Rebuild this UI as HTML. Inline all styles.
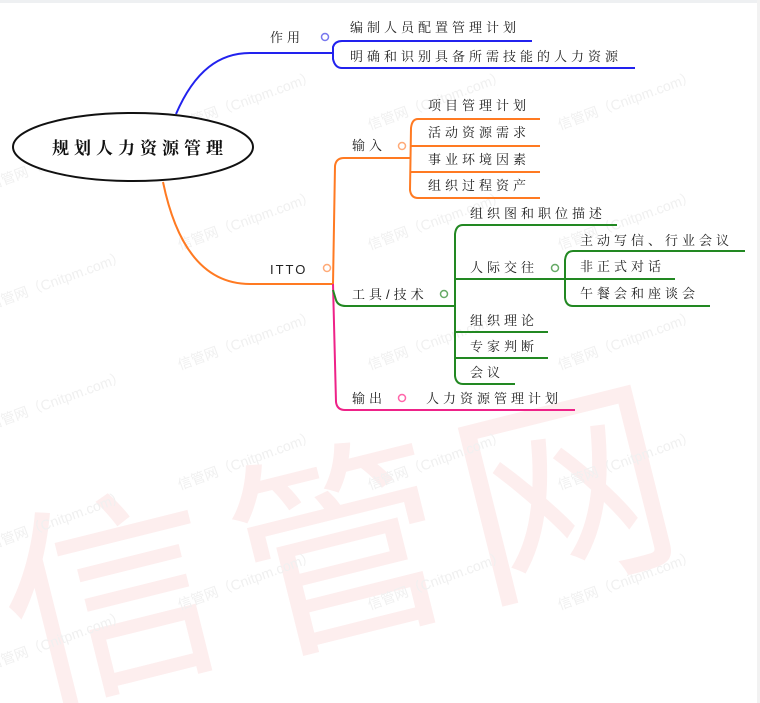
<!DOCTYPE html>
<html><head><meta charset="utf-8"><style>
html,body{margin:0;padding:0;background:#fff;width:760px;height:703px;overflow:hidden;}
svg{display:block}
.t{font-family:"Liberation Sans","Noto Serif CJK SC","Noto Sans CJK SC",serif;font-size:13px;fill:#222;letter-spacing:4px}
.w{font-family:"Liberation Sans","Noto Sans CJK SC",sans-serif;font-size:14px;fill:#f0f0f0}
</style></head><body>
<svg width="760" height="703" viewBox="0 0 760 703" xmlns="http://www.w3.org/2000/svg">
<rect x="0" y="0" width="760" height="3" fill="#eef0f2"/>
<rect x="757" y="0" width="3" height="703" fill="#f2f2f2"/>
<g font-family="'Noto Sans CJK SC',sans-serif" font-size="215" fill="#fdeeee">
<text transform="translate(25,700) rotate(-14)">信</text>
<text transform="translate(255,650) rotate(-14)">管</text>
<text transform="translate(480,595) rotate(-14)">网</text>
</g>
<g class="w">
<text transform="translate(-10,190) rotate(-20)">信管网（Cnitpm.com）</text>
<text transform="translate(180,130) rotate(-20)">信管网（Cnitpm.com）</text>
<text transform="translate(370,130) rotate(-20)">信管网（Cnitpm.com）</text>
<text transform="translate(560,130) rotate(-20)">信管网（Cnitpm.com）</text>
<text transform="translate(-10,310) rotate(-20)">信管网（Cnitpm.com）</text>
<text transform="translate(180,250) rotate(-20)">信管网（Cnitpm.com）</text>
<text transform="translate(370,250) rotate(-20)">信管网（Cnitpm.com）</text>
<text transform="translate(560,250) rotate(-20)">信管网（Cnitpm.com）</text>
<text transform="translate(-10,430) rotate(-20)">信管网（Cnitpm.com）</text>
<text transform="translate(180,370) rotate(-20)">信管网（Cnitpm.com）</text>
<text transform="translate(370,370) rotate(-20)">信管网（Cnitpm.com）</text>
<text transform="translate(560,370) rotate(-20)">信管网（Cnitpm.com）</text>
<text transform="translate(-10,550) rotate(-20)">信管网（Cnitpm.com）</text>
<text transform="translate(180,490) rotate(-20)">信管网（Cnitpm.com）</text>
<text transform="translate(370,490) rotate(-20)">信管网（Cnitpm.com）</text>
<text transform="translate(560,490) rotate(-20)">信管网（Cnitpm.com）</text>
<text transform="translate(-10,670) rotate(-20)">信管网（Cnitpm.com）</text>
<text transform="translate(180,610) rotate(-20)">信管网（Cnitpm.com）</text>
<text transform="translate(370,610) rotate(-20)">信管网（Cnitpm.com）</text>
<text transform="translate(560,610) rotate(-20)">信管网（Cnitpm.com）</text>
</g>
<g fill="none" stroke="#2222ee" stroke-width="2">
<path d="M176,114 C195,70 220,53 250,53 L333,53"/>
<path d="M532,41 L342,41 Q335,41 333,47 L333,59 Q335,68 342,68 L635,68"/>
<circle cx="325" cy="37" r="3.5" stroke="#7777ee" stroke-width="1.5"/>
</g>
<g fill="none" stroke="#ff7a22" stroke-width="2">
<path d="M163,182 C175,240 200,284 250,284 L333,284"/>
<path d="M333,284 L335,166 Q336,158 344,158 L410,158"/>
<path d="M540,119 L418,119 Q412,119 411,128 L410,190 Q411,198 418,198 L540,198"/>
<path d="M410,146 L540,146 M410,172 L540,172"/>
<circle cx="327" cy="268" r="3.5" stroke="#ffaa77" stroke-width="1.5"/>
<circle cx="402" cy="146" r="3.5" stroke="#ffaa77" stroke-width="1.5"/>
</g>
<g fill="none" stroke="#ee2288" stroke-width="2">
<path d="M333,284 L336,402 Q337,410 345,410 L575,410"/>
<circle cx="402" cy="398" r="3.5" stroke="#ff66aa" stroke-width="1.5"/>
</g>
<g fill="none" stroke="#228822" stroke-width="2">
<path d="M333,290 L336,300 Q338,306 346,306 L455,306"/>
<path d="M617,225 L463,225 Q456,225 455,234 L455,376 Q456,384 463,384 L515,384"/>
<path d="M455,279 L560,279 M455,332 L548,332 M455,358 L548,358"/>
<path d="M745,251 L573,251 Q566,251 565,260 L565,298 Q566,306 573,306 L710,306"/>
<path d="M560,279 L675,279"/>
<circle cx="444" cy="294" r="3.5" stroke="#66aa66" stroke-width="1.5"/>
<circle cx="555" cy="268" r="3.5" stroke="#66aa66" stroke-width="1.5"/>
</g>
<ellipse cx="133" cy="147" rx="120" ry="34" fill="#fff" stroke="#111" stroke-width="2"/>
<text x="52" y="154" font-family="'Noto Serif CJK SC',serif" font-size="17" font-weight="bold" fill="#111" letter-spacing="5">规划人力资源管理</text>
<g class="t">
<text x="270" y="42">作用</text>
<text x="350" y="32">编制人员配置管理计划</text>
<text x="350" y="61">明确和识别具备所需技能的人力资源</text>
<text x="270" y="274" font-family="Liberation Sans,sans-serif" letter-spacing="2">ITTO</text>
<text x="352" y="150">输入</text>
<text x="428" y="110">项目管理计划</text>
<text x="428" y="137">活动资源需求</text>
<text x="428" y="164">事业环境因素</text>
<text x="428" y="190">组织过程资产</text>
<text x="352" y="299">工具/技术</text>
<text x="470" y="218">组织图和职位描述</text>
<text x="470" y="272">人际交往</text>
<text x="580" y="245">主动写信、行业会议</text>
<text x="580" y="271">非正式对话</text>
<text x="580" y="298">午餐会和座谈会</text>
<text x="470" y="325">组织理论</text>
<text x="470" y="351">专家判断</text>
<text x="470" y="377">会议</text>
<text x="352" y="403">输出</text>
<text x="426" y="403">人力资源管理计划</text>
</g>
</svg>
</body></html>
